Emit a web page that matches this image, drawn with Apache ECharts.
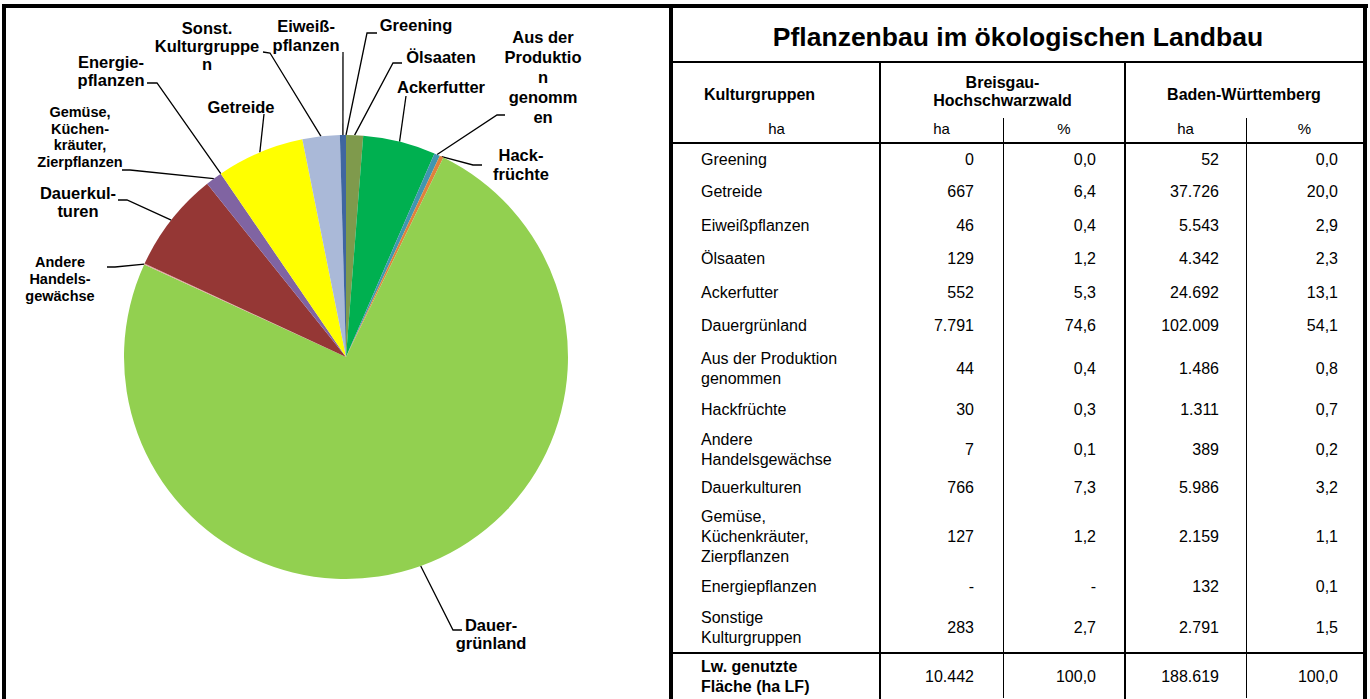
<!DOCTYPE html>
<html><head><meta charset="utf-8">
<script src="https://cdn.jsdelivr.net/npm/echarts@6/dist/echarts.min.js"></script>
<style>
html,body{margin:0;padding:0;background:#fff;}
body{width:1370px;height:699px;position:relative;overflow:hidden;font-family:"Liberation Sans",Arial,sans-serif;color:#000;}
#chart{position:absolute;left:0;top:0;width:1370px;height:699px;}
.ln{position:absolute;background:#000;}
.cell{position:absolute;display:flex;align-items:center;font-size:16px;line-height:20px;white-space:pre-line;box-sizing:border-box;}
.b{font-weight:bold;}
</style></head><body>
<div id="chart"></div>
<div id="table"></div>
<script>
// ---------- DATA ----------
const tableTitle = "Pflanzenbau im ökologischen Landbau";
const headerCols = ["Kulturgruppen", "Breisgau-\nHochschwarzwald", "Baden-Württemberg"];
const unitLabels = ["ha", "ha", "%", "ha", "%"];
const tableRowLabels = ["Greening","Getreide","Eiweißpflanzen","Ölsaaten","Ackerfutter","Dauergrünland","Aus der Produktion\ngenommen","Hackfrüchte","Andere\nHandelsgewächse","Dauerkulturen","Gemüse,\nKüchenkräuter,\nZierpflanzen","Energiepflanzen","Sonstige\nKulturgruppen"];
const breisgauHa  = ["0","667","46","129","552","7.791","44","30","7","766","127","-","283"];
const breisgauPct = ["0,0","6,4","0,4","1,2","5,3","74,6","0,4","0,3","0,1","7,3","1,2","-","2,7"];
const bwHa  = ["52","37.726","5.543","4.342","24.692","102.009","1.486","1.311","389","5.986","2.159","132","2.791"];
const bwPct = ["0,0","20,0","2,9","2,3","13,1","54,1","0,8","0,7","0,2","3,2","1,1","0,1","1,5"];
const totalLabel = "Lw. genutzte\nFläche (ha LF)";
const totalValues = ["10.442","100,0","188.619","100,0"];

// pie (Breisgau-Hochschwarzwald, ha), in the pie's clockwise order
const pieCategories = ["Greening","Ölsaaten","Ackerfutter","Aus der Produktion genommen","Hackfrüchte","Dauergrünland","Andere Handelsgewächse","Dauerkulturen","Gemüse, Küchenkräuter, Zierpflanzen","Energiepflanzen","Getreide","Sonstige Kulturgruppen","Eiweißpflanzen"];
const pieValues = [0,129,552,44,30,7791,7,766,127,0,667,283,46];
const pieLabels = ["Greening","Ölsaaten","Ackerfutter","Aus der\nProduktio\nn\ngenomm\nen","Hack-\nfrüchte","Dauer-\ngrünland","Andere\nHandels-\ngewächse","Dauerkul-\nturen","Gemüse,\nKüchen-\nkräuter,\nZierpflanzen","Energie-\npflanzen","Getreide","Sonst.\nKulturgruppe\nn","Eiweiß-\npflanzen"];

// ---------- STYLE / LAYOUT ----------
const pieColors = ['#3F66A0','#7F9A4C','#00B050','#4196B0','#E0823C','#92D050','#E8A0A0','#953735','#8064A2','#4F81BD','#FFFF00','#AAB9D8','#3F66A0'];
const labelPos = [[416,25],[441,57],[441,87],[543,77],[521,164],[491,634],[60,279],[78,202],[80,137],[111,71],[241,107],[207,46],[306,35]];
const lineBend = [[[367,33],[377,33]],[[393,63],[402,63]],[[406,96],[406,96]],[[497,115],[505,115]],[[473,165],[482,165]],[[453,630],[462,630]],[[115,267],[107,267]],[[127,200],[118,200]],[[130,170],[122,170]],[[157,83],[147,83]],[[264,114],[264,114]],[[270,53],[263,52]],[[343,52],[343,52]]];
const labelFont = [16.5,16.5,16.5,16.5,16.5,16.5,14.5,16.5,14.5,16.5,16.5,16.5,16.5];
const labelLH   = [18,18,18,20,19,18,17,18,16.5,18,18,18,19];

const colX = [673, 880, 1003, 1125, 1246, 1363];
const rowHeights = [31.5,33.5,33.5,33.5,33.5,33.5,51,31,49,28,70,30,51];
const padRight = [29, 29, 27, 25];

// ---------- PIE ----------
const chart = echarts.init(document.getElementById('chart'), null, {renderer:'svg'});
const pieData = pieValues.map((v,i)=>({
  name: pieCategories[i], value: v,
  itemStyle: {color: pieColors[i]},
  label: {formatter: pieLabels[i], fontSize: labelFont[i], lineHeight: labelLH[i]}
}));
chart.setOption({
  animation: false,
  series: [{
    type: 'pie',
    center: [346, 357],
    radius: 222,
    startAngle: 90,
    clockwise: true,
    avoidLabelOverlap: false,
    silent: true,
    itemStyle: {borderWidth: 0},
    label: {show: true, position: 'outside', color: '#000', fontWeight: 'bold',
            fontFamily: '"Liberation Sans", Arial, sans-serif', align: 'center'},
    labelLine: {show: true, length: 10, length2: 10, lineStyle: {color: '#000', width: 1.3}},
    labelLayout: function (p) {
      const i = p.dataIndex;
      const a = (p.labelLinePoints && p.labelLinePoints[0]) || [346, 135];
      return {
        x: labelPos[i][0], y: labelPos[i][1], align: 'center', verticalAlign: 'middle',
        labelLinePoints: [a, lineBend[i][0], lineBend[i][1]]
      };
    },
    emphasis: {disabled: true},
    data: pieData
  }]
});

// ---------- FRAME & TABLE ----------
const T = document.getElementById('table');
function line(x,y,w,h){const d=document.createElement('div');d.className='ln';d.style.cssText=`left:${x}px;top:${y}px;width:${w}px;height:${h}px`;T.appendChild(d);}
function cell(txt,x,y,w,h,align,cls,extra){const d=document.createElement('div');d.className='cell '+(cls||'');
  d.style.cssText=`left:${x}px;top:${y}px;width:${w}px;height:${h}px;justify-content:${align};text-align:${align==='flex-end'?'right':(align==='center'?'center':'left')};`+(extra||'');
  d.textContent=txt;T.appendChild(d);}
// frame
line(2,4,1366,4); line(2,4,4,695); line(1363,4,4,695); line(669,4,4,695);
// title
cell(tableTitle, colX[0], 10, colX[5]-colX[0], 54, 'center', 'b', 'font-size:26.5px;line-height:30px;');
line(colX[0], 61, colX[5]-colX[0], 2);
// header
cell(headerCols[0], colX[0], 63, colX[1]-colX[0], 64, 'flex-start', 'b', 'padding-left:31px;');
cell(headerCols[1], colX[1], 63, colX[3]-colX[1], 58, 'center', 'b', 'line-height:18px;');
cell(headerCols[2], colX[3], 63, colX[5]-colX[3], 64, 'center', 'b');
for (let c=0;c<5;c++) cell(unitLabels[c], colX[c], 117, colX[c+1]-colX[c], 24, 'center', '', 'font-size:15px;');
line(colX[0], 142, colX[5]-colX[0], 2);
// vertical lines
line(colX[1]-1, 62, 2, 640); line(colX[3]-1, 62, 2, 640);
line(colX[2], 118, 1, 580); line(colX[4], 118, 1, 580);
// data rows
let y = 144;
const cols = [breisgauHa, breisgauPct, bwHa, bwPct];
for (let r=0;r<tableRowLabels.length;r++){
  const h = rowHeights[r];
  cell(tableRowLabels[r], colX[0], y, colX[1]-colX[0], h, 'flex-start', '', 'padding-left:28px;');
  for (let c=0;c<4;c++) cell(cols[c][r], colX[c+1], y, colX[c+2]-colX[c+1], h, 'flex-end', '', `padding-right:${padRight[c]}px;`);
  y += h;
}
line(colX[0], y-1, colX[5]-colX[0], 2);
const yt = y+1, ht = 699-yt;
cell(totalLabel, colX[0], yt, colX[1]-colX[0], ht, 'flex-start', 'b', 'padding-left:28px;');
for (let c=0;c<4;c++) cell(totalValues[c], colX[c+1], yt, colX[c+2]-colX[c+1], ht, 'flex-end', '', `padding-right:${padRight[c]}px;`);
</script>
</body></html>
